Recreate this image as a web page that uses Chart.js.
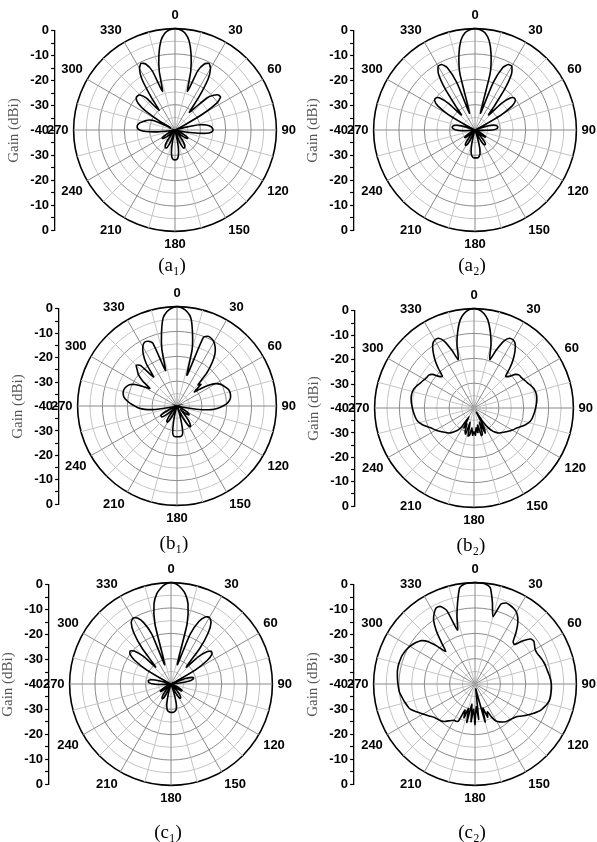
<!DOCTYPE html>
<html lang="en">
<head>
<meta charset="UTF-8">
<title>Gain patterns</title>
<script src="https://cdn.jsdelivr.net/npm/chart.js"></script>
<style>
  body { margin: 0; background: #fff; }
  #page { position: relative; width: 597px; height: 842px; overflow: hidden; background: #fff; }
  #page canvas { position: absolute; }
</style>
</head>
<body>
<div id="page"></div>
<script>
// angular sampling of the patterns (degrees) and which angles get a label
const angleStep = 3;
const labeledAngles = [0, 30, 60, 90, 120, 150, 180, 210, 240, 270, 300, 330];
// left gain axis, read top to bottom
const gainTicks = [0, -10, -20, -30, -40, -30, -20, -10, 0];
const panelTitles = ['(a\u2081)', '(a\u2082)', '(b\u2081)', '(b\u2082)', '(c\u2081)', '(c\u2082)'];

// gain (dBi), one value every 3 degrees from 0 to 357
const gainA1 = [
  0, -0.4, -1.6, -4.4, -9.5, -16, -24, -15, -11.5, -10.5,
  -12, -16, -24, -31, -28, -22, -19.5, -18, -17.8, -20,
  -27, -36, -40, -40, -40, -36, -30, -27.5, -26, -25.3,
  -25, -25.5, -27.5, -33, -38, -40, -40, -40, -38, -36,
  -34.5, -34, -34.5, -36, -38, -40, -40, -38, -35, -33,
  -32.3, -32, -32.5, -35, -40, -40, -35, -31, -29, -28.3,
  -28.2, -28.3, -29, -31, -35, -40, -40, -35, -32.5, -32,
  -32.3, -33, -35, -38, -40, -40, -38, -36, -34.5, -34,
  -34.5, -36, -38, -40, -40, -40, -40, -38, -33, -28.5,
  -26, -25.2, -25, -25.3, -26, -27, -28, -29, -31, -38,
  -33, -26, -22, -20.3, -20, -20.5, -23, -30, -24, -16,
  -12, -10.5, -11.5, -15, -24, -16, -9.5, -4.4, -1.6, -0.4
];
const gainA2 = [
  0, -0.4, -1.5, -4.3, -9.5, -17, -33, -20, -13, -11,
  -11, -13.5, -20, -28, -32, -25, -21, -20, -20.3, -22.5,
  -28, -37, -40, -38, -34.5, -32.5, -31.5, -31, -31, -31.5,
  -33, -37, -40, -40, -40, -40, -40, -40, -40, -38,
  -36, -35, -35.5, -37.5, -40, -40, -37, -34, -33, -33,
  -34, -37, -40, -40, -37, -33, -30.5, -29.5, -29, -29,
  -29, -29, -29.5, -30.5, -33, -37, -40, -40, -37, -34,
  -33, -33, -34, -37, -40, -40, -37.5, -35.5, -35, -36,
  -38, -40, -40, -40, -40, -40, -40, -40, -38, -34.5,
  -32.5, -31.5, -31, -31, -31.5, -33, -36, -40, -40, -37,
  -28, -22.5, -20.3, -20, -21, -25, -32, -28, -20, -13.5,
  -11, -11, -13, -20, -33, -17, -9.5, -4.3, -1.5, -0.4
];
const gainB1 = [
  0, -0.5, -1.8, -4.2, -10, -16.5, -27, -10.5, -9.3, -9.5,
  -10.3, -11.8, -14, -17.5, -22, -28, -27, -31, -28, -24.5,
  -22, -20.6, -19.7, -19, -18.3, -18, -18, -18.2, -18.8, -19.8,
  -21.5, -23.5, -26, -31, -38, -40, -40, -40, -40, -38,
  -36, -34.5, -34, -34.5, -36, -38, -36, -33, -31, -30,
  -31, -34, -38, -40, -37, -33, -29, -27.8, -27.6, -27.6,
  -27.6, -27.6, -27.8, -29, -33, -37, -40, -40, -37, -34,
  -32.5, -32.5, -33.5, -36, -39, -40, -37, -34, -32.5, -32.4,
  -32.5, -34, -37, -40, -40, -40, -38, -31, -27, -24.5,
  -23, -21.3, -19.8, -18.5, -17.9, -17.6, -17.7, -18.2, -19, -21,
  -24.5, -27, -23, -20, -18.5, -16.8, -18, -25, -19, -15,
  -12.5, -11.2, -11.5, -13, -25, -16.5, -10, -4.2, -1.8, -0.5
];
const gainB2 = [
  0, -0.4, -1.8, -4.2, -8.5, -13.5, -19.5, -15, -10.5, -8.5,
  -8.4, -9.5, -12, -15, -18.5, -22, -21, -18.5, -17.5, -17.4,
  -17, -16.5, -16, -15.3, -14.7, -14.4, -14.3, -14.4, -14.6, -14.9,
  -15.2, -15.5, -15.8, -16.1, -16.5, -17.2, -18.2, -19.4, -20.6, -21.5,
  -22.2, -23, -23.8, -24.5, -25.2, -25.8, -26.8, -28, -30, -33,
  -38, -31, -29, -34, -29, -28.5, -33, -30, -32, -29,
  -30.5, -29, -32, -29, -28.5, -34, -29, -30, -33, -31,
  -36, -31, -29, -28, -26.8, -25.8, -25.2, -24.5, -23.8, -23,
  -22.2, -21.5, -20.6, -19.4, -18.2, -17.2, -16.5, -16.1, -15.8, -15.5,
  -15.2, -14.9, -14.6, -14.4, -14.3, -14.4, -14.7, -15.3, -16, -16.5,
  -17, -17.4, -17.5, -18.5, -21, -22, -18.5, -15, -12, -9.5,
  -8.4, -8.5, -10.5, -15, -19.5, -13.5, -8.5, -4.2, -1.8, -0.4
];
const gainC1 = [
  0, -0.5, -1.9, -4, -7.7, -15.5, -32, -19, -13, -10.3,
  -9.7, -11, -15, -22, -31, -25, -21, -19.5, -20, -23,
  -29, -38, -40, -34, -31.5, -30.8, -31.2, -33, -37, -40,
  -40, -40, -40, -40, -40, -40, -40, -40, -38, -36,
  -35, -35, -36.5, -39, -40, -40, -37, -34.5, -33.5, -33.3,
  -34, -37, -40, -40, -36, -32, -30, -29.2, -28.9, -28.8,
  -28.8, -28.9, -29.2, -30, -32, -36, -40, -40, -37, -34,
  -33.3, -33.5, -34.5, -37, -40, -40, -39, -36.5, -35, -35,
  -36, -38, -40, -40, -40, -40, -40, -40, -40, -36,
  -33, -31.5, -31, -31, -32, -35, -40, -40, -40, -38,
  -29, -23, -20, -19.3, -20.5, -24.5, -31, -22, -15, -11.2,
  -10, -10.8, -13.5, -19, -32, -15.5, -7.7, -4, -1.9, -0.5
];
const gainC2 = [
  0, -0.1, -0.3, -1.5, -7, -12.5, -6.8, -5.8, -6, -6.5,
  -7.3, -9, -11.5, -14.5, -17.5, -18, -14.5, -11.8, -11.3, -12,
  -12.6, -12.7, -12.4, -12, -11.6, -11.3, -11.1, -10.8, -10.4, -10.1,
  -9.9, -9.8, -9.8, -9.8, -9.9, -10.4, -11.1, -11.9, -13, -14.3,
  -15.7, -17, -18.4, -19.3, -19.8, -20.2, -20.5, -20.8, -21.5, -22.2,
  -23, -25, -28, -26, -30, -24.5, -36, -38, -26, -31,
  -24, -30, -25, -32, -24.5, -30, -26, -29, -24, -23.5,
  -23.5, -22.8, -22, -21, -20.3, -20, -19.6, -19.1, -18.3, -17.3,
  -16.4, -15.2, -13.8, -12.5, -12, -11.5, -11, -10.5, -10, -9.8,
  -9.6, -9.4, -9.2, -9, -8.9, -8.9, -9, -9.1, -9.4, -9.8,
  -10.3, -11, -11.8, -12.8, -15, -19, -22.8, -19, -14, -10,
  -7.8, -6.3, -6.5, -9, -17.6, -12.5, -7, -1.5, -0.3, -0.1
];

// where each panel sits on the page
const panels = [
  { data: gainA1, cx: 175, cy: 130, size: 244, axisX: 53, titlePad: 2 },
  { data: gainA2, cx: 475, cy: 130, size: 244, axisX: 352, titlePad: 2 },
  { data: gainB1, cx: 177, cy: 406, size: 240, axisX: 57, titlePad: 6 },
  { data: gainB2, cx: 474, cy: 408, size: 240, axisX: 353, titlePad: 6 },
  { data: gainC1, cx: 171, cy: 684, size: 244, axisX: 47, titlePad: 15 },
  { data: gainC2, cx: 475, cy: 684, size: 244, axisX: 352, titlePad: 15 }
];

const page = document.getElementById('page');
const sans = "'Liberation Sans', Arial, sans-serif";
const serif = "'Liberation Serif', 'Times New Roman', serif";

const angleLabels = [];
for (let a = 0; a < 360; a += angleStep) angleLabels.push(String(a));

function makeCanvas(left, top, w, h) {
  const c = document.createElement('canvas');
  c.width = w;
  c.height = h;
  c.style.left = left + 'px';
  c.style.top = top + 'px';
  c.style.width = w + 'px';
  c.style.height = h + 'px';
  page.appendChild(c);
  return c;
}

function drawAxis(p) {
  const radius = p.size / 2 - 20.6;
  // wide canvas so the y axis is not squeezed (a side box gets at most half the width)
  const canvas = makeCanvas(p.axisX - 52, Math.round(p.cy - radius - 8), 120, Math.round(2 * radius + 16));
  new Chart(canvas, {
    type: 'scatter',
    data: { datasets: [] },
    options: {
      responsive: false,
      animation: false,
      devicePixelRatio: 1,
      plugins: { legend: { display: false }, tooltip: { enabled: false } },
      scales: {
        x: { display: false },
        y: {
          position: 'left',
          min: -40,
          max: 40,
          ticks: {
            stepSize: 5,
            autoSkip: false,
            padding: 2,
            color: '#000',
            font: { family: sans, size: 13, weight: 'bold' },
            callback: v => v % 10 === 0 ? String(gainTicks[(40 - v) / 10]) : ''
          },
          grid: { drawOnChartArea: false, tickLength: 4, tickColor: '#000', tickWidth: 1.2 },
          border: { color: '#000', width: 1.3 },
          title: {
            display: true,
            text: 'Gain (dBi)',
            color: '#555',
            font: { family: serif, size: 15 },
            padding: { top: 4, bottom: 5.3 }
          }
        }
      }
    }
  });
}

function drawPanel(p, title) {
  const canvas = makeCanvas(p.cx - 138, p.cy - p.size / 2, 270, p.size + 23 + p.titlePad);
  new Chart(canvas, {
    type: 'radar',
    data: {
      labels: angleLabels,
      datasets: [{
        data: p.data,
        borderColor: '#000',
        borderWidth: 1.6,
        backgroundColor: 'transparent',
        fill: false,
        pointRadius: 0,
        pointHitRadius: 0,
        tension: 0.2
      }]
    },
    options: {
      responsive: false,
      animation: false,
      devicePixelRatio: 1,
      plugins: {
        legend: { display: false },
        tooltip: { enabled: false },
        title: {
          display: true,
          position: 'bottom',
          text: title,
          color: '#000',
          font: { family: serif, size: 19, weight: 'normal' },
          padding: { top: p.titlePad, bottom: 0 }
        }
      },
      scales: {
        r: {
          min: -40,
          max: 0,
          ticks: { display: false, stepSize: 5 },
          grid: {
            circular: true,
            color: ctx => ctx.tick.value === 0 ? '#000' : (ctx.tick.value % 10 === 0 ? '#8a8a8a' : '#c4c4c4'),
            lineWidth: ctx => ctx.tick.value === 0 ? 1.6 : 1
          },
          angleLines: {
            color: ctx => ctx.index % 10 === 0 ? '#8a8a8a' : '#c4c4c4',
            lineWidth: ctx => ctx.index % 5 === 0 ? 1 : 0
          },
          pointLabels: {
            color: '#000',
            padding: 5,
            font: { family: sans, size: 13, weight: 'bold' },
            callback: label => labeledAngles.includes(Number(label)) ? label : ''
          }
        }
      }
    }
  });
}

panels.forEach((p, i) => {
  drawAxis(p);
  drawPanel(p, panelTitles[i]);
});
</script>
</body>
</html>
